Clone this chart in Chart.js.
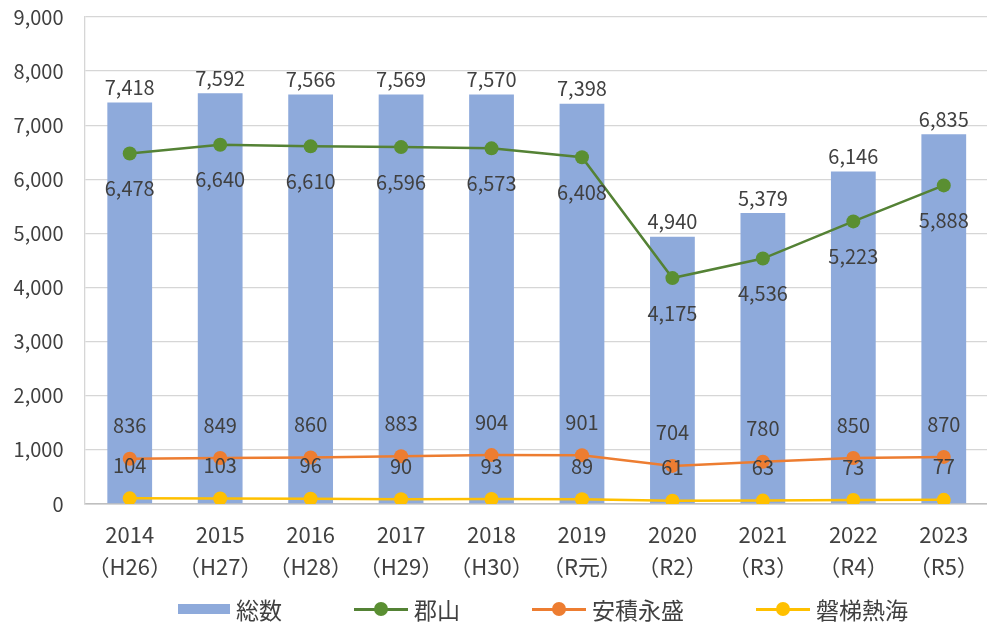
<!DOCTYPE html>
<html>
<head>
<meta charset="utf-8">
<script src="https://cdn.jsdelivr.net/npm/chart.js@4"></script>
<style>
  html, body { margin: 0; padding: 0; background: #fff; overflow: hidden; }
  #wrap { position: relative; width: 996px; height: 623px; }
  #legend {
    position: absolute; left: 178px; top: 592px;
    display: flex; gap: 72px; align-items: center;
    font-family: "Noto Sans CJK JP", "Noto Sans", sans-serif;
    font-size: 23px; color: #404040;
  }
  .item { display: flex; align-items: center; gap: 6px; }
  .box { width: 52px; height: 10px; }
  .sym { position: relative; width: 54px; height: 30px; }
  .sym .ln { position: absolute; left: 0; right: 0; top: 13.5px; height: 3px; }
  .sym .dot { position: absolute; left: 20px; top: 8px; width: 14px; height: 14px; border-radius: 50%; }
</style>
</head>
<body>
<div id="wrap">
  <canvas id="mainChart"></canvas>
  <div id="legend"></div>
</div>
<script>
// Values
const years = ['2014', '2015', '2016', '2017', '2018', '2019', '2020', '2021', '2022', '2023'];
const eras = ['（H26）', '（H27）', '（H28）', '（H29）', '（H30）', '（R元）', '（R2）', '（R3）', '（R4）', '（R5）'];
const total = [7418, 7592, 7566, 7569, 7570, 7398, 4940, 5379, 6146, 6835];
const koriyama = [6478, 6640, 6610, 6596, 6573, 6408, 4175, 4536, 5223, 5888];
const asakaNagamori = [836, 849, 860, 883, 904, 901, 704, 780, 850, 870];
const bandaiAtami = [104, 103, 96, 90, 93, 89, 61, 63, 73, 77];
const yTicks = [0, 1000, 2000, 3000, 4000, 5000, 6000, 7000, 8000, 9000];

const FONT = '"Noto Sans CJK JP", "Noto Sans", sans-serif';
const labels = years.map((y, i) => [y, eras[i]]);

// draws the number next to each bar / point
const valueLabels = {
    id: 'valueLabels',
    afterDatasetsDraw(chart) {
        const ctx = chart.ctx;
        ctx.save();
        ctx.font = '20px ' + FONT;
        ctx.fillStyle = '#404040';
        ctx.textAlign = 'center';
        ctx.textBaseline = 'middle';
        chart.data.datasets.forEach((ds, di) => {
            const meta = chart.getDatasetMeta(di);
            meta.data.forEach((el, i) => {
                const txt = ds.data[i].toLocaleString('en-US');
                ctx.fillText(txt, el.x, el.y + ds.labelOffset);
            });
        });
        ctx.restore();
    }
};

const ctx = document.getElementById('mainChart').getContext('2d');
new Chart(ctx, {
    type: 'bar',
    data: {
        labels: labels,
        datasets: [
            {
                type: 'bar',
                label: '総数',
                data: total,
                backgroundColor: '#8eaadb',
                categoryPercentage: 1,
                barPercentage: 0.495,
                order: 2,
                labelOffset: -15
            },
            {
                type: 'line',
                label: '郡山',
                data: koriyama,
                borderColor: '#548235',
                backgroundColor: '#5a8f32',
                borderWidth: 2.5,
                pointRadius: 7,
                pointBorderWidth: 0,
                tension: 0,
                order: 1,
                labelOffset: 35
            },
            {
                type: 'line',
                label: '安積永盛',
                data: asakaNagamori,
                borderColor: '#ed7d31',
                backgroundColor: '#ed7d31',
                borderWidth: 2.5,
                pointRadius: 7,
                pointBorderWidth: 0,
                tension: 0,
                order: 1,
                labelOffset: -33
            },
            {
                type: 'line',
                label: '磐梯熱海',
                data: bandaiAtami,
                borderColor: '#ffc000',
                backgroundColor: '#ffc000',
                borderWidth: 2.5,
                pointRadius: 7,
                pointBorderWidth: 0,
                tension: 0,
                order: 1,
                labelOffset: -33
            }
        ]
    },
    options: {
        responsive: true,
        maintainAspectRatio: false,
        animation: false,
        layout: { padding: { top: 17, left: 0, right: 0, bottom: 0 } },
        plugins: {
            legend: { display: false },
            tooltip: { enabled: false }
        },
        scales: {
            x: {
                grid: { display: false, drawTicks: false },
                border: { display: true, color: '#bfbfbf', width: 1.5 },
                ticks: {
                    color: '#404040',
                    padding: 15,
                    maxRotation: 0,
                    autoSkip: false,
                    font: { family: FONT, size: 22, lineHeight: 1.45 }
                },
                afterFit: scale => { scale.height = 119; }
            },
            y: {
                min: 0,
                max: 9000,
                afterBuildTicks: scale => { scale.ticks = yTicks.map(v => ({ value: v })); },
                grid: {
                    drawTicks: true,
                    tickLength: 21,
                    tickColor: 'rgba(0,0,0,0)',
                    color: c => c.tick && c.tick.value === 0 ? '#bfbfbf' : '#d6d6d6',
                    lineWidth: 1.3
                },
                border: { display: true, color: '#d6d6d6', width: 1.3 },
                ticks: {
                    color: '#404040',
                    padding: 0,
                    font: { family: FONT, size: 20 },
                    callback: v => v.toLocaleString('en-US')
                },
                afterFit: scale => { scale.width = 84.5; }
            }
        }
    },
    plugins: [valueLabels]
});

// legend as html below the plot
const legendItems = [
    { name: '総数', kind: 'box', color: '#8eaadb' },
    { name: '郡山', kind: 'line', color: '#548235', dot: '#5a8f32' },
    { name: '安積永盛', kind: 'line', color: '#ed7d31', dot: '#ed7d31' },
    { name: '磐梯熱海', kind: 'line', color: '#ffc000', dot: '#ffc000' }
];
const legendEl = document.getElementById('legend');
legendItems.forEach(it => {
    const d = document.createElement('div');
    d.className = 'item';
    if (it.kind === 'box') {
        d.innerHTML = `<span class="box" style="background:${it.color}"></span><span>${it.name}</span>`;
    } else {
        d.innerHTML = `<span class="sym"><span class="ln" style="background:${it.color}"></span><span class="dot" style="background:${it.dot}"></span></span><span>${it.name}</span>`;
    }
    legendEl.appendChild(d);
});
</script>
</body>
</html>
